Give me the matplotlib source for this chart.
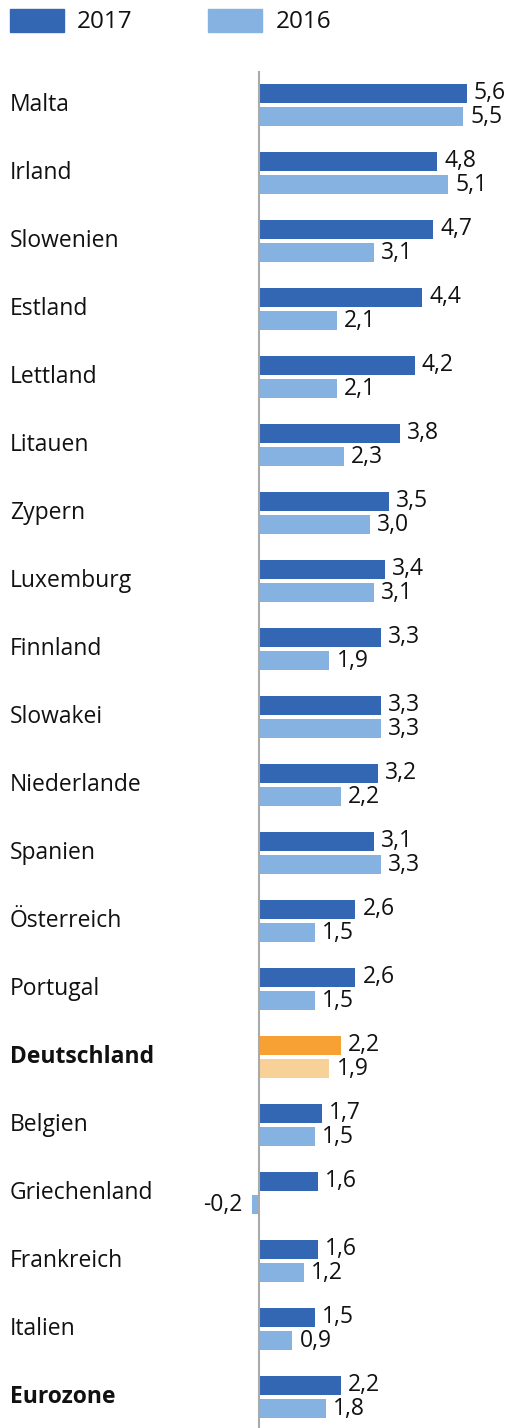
import numpy as np
import matplotlib.pyplot as plt

countries = ["Malta", "Irland", "Slowenien", "Estland", "Lettland", "Litauen",
             "Zypern", "Luxemburg", "Finnland", "Slowakei", "Niederlande",
             "Spanien", "Österreich", "Portugal", "Deutschland", "Belgien",
             "Griechenland", "Frankreich", "Italien", "Eurozone"]
v2017 = [5.6, 4.8, 4.7, 4.4, 4.2, 3.8, 3.5, 3.4, 3.3, 3.3, 3.2, 3.1, 2.6, 2.6,
         2.2, 1.7, 1.6, 1.6, 1.5, 2.2]
v2016 = [5.5, 5.1, 3.1, 2.1, 2.1, 2.3, 3.0, 3.1, 1.9, 3.3, 2.2, 3.3, 1.5, 1.5,
         1.9, 1.5, -0.2, 1.2, 0.9, 1.8]
bold = ["Deutschland", "Eurozone"]

dark = "#3366b3"
light = "#85b2e0"
dark_de = "#f7a034"
light_de = "#f8d198"

plt.rcParams['font.family'] = ['Open Sans', 'DejaVu Sans']

fig = plt.figure(figsize=(5.12, 14.28), dpi=100)
ax = fig.add_axes([0, 0, 1, 1])
ax.set_axis_off()

px = 37.1   # pixels per unit on x
row = 68    # pixels per row
top = 105   # centre of first row in pixels
ax.set_xlim(-259 / px, (512 - 259) / px)
ax.set_ylim((1428 - top) / row, -top / row)

lx = lambda p: (p - 259) / px
ly = lambda p: (p - top) / row

y = np.arange(len(countries))
h = 19 / row
off = 11.5 / row

c17 = [dark_de if c == "Deutschland" else dark for c in countries]
c16 = [light_de if c == "Deutschland" else light for c in countries]
ax.barh(y - off, v2017, height=h, color=c17)
ax.barh(y + off, v2016, height=h, color=c16)

ax.plot([0, 0], [ly(72), 21], color="#aaaaaa", lw=1.5, zorder=3)

def fmt(v):
    return f"{v:.1f}".replace(".", ",")

fs = 16.5
for i, c in enumerate(countries):
    ax.text(lx(10), i, c, va="center", ha="left", fontsize=fs,
            fontweight="bold" if c in bold else "normal", color="#111111")
    for val, yy in [(v2017[i], i - off), (v2016[i], i + off)]:
        if val >= 0:
            ax.text(val + 7 / px, yy, fmt(val), va="center", ha="left",
                    fontsize=fs, color="#111111")
        else:
            ax.text(val - 9 / px, yy, fmt(val), va="center", ha="right",
                    fontsize=fs, color="#111111")

# legend
for x0, col, lab, tx in [(10, dark, "2017", 77), (208, light, "2016", 276)]:
    ax.add_patch(plt.Rectangle((lx(x0), ly(9)), 54 / px, 23 / row, color=col))
    ax.text(lx(tx), ly(22), lab, va="center", ha="left", fontsize=17.5,
            color="#111111")

fig.savefig("out.png", dpi=100)
